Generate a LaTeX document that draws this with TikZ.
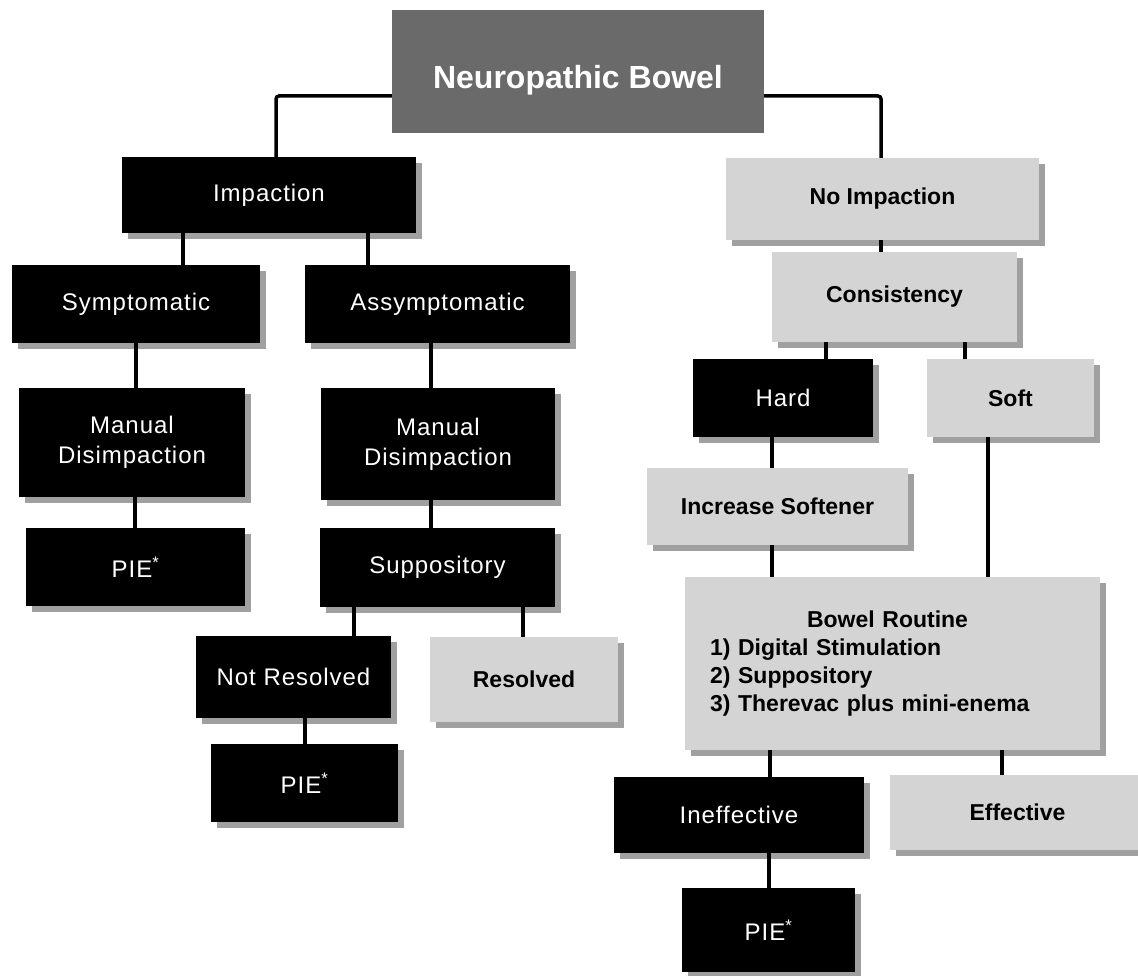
\documentclass[tikz,border=0pt]{standalone}
\usepackage{fontspec}
\setmainfont{Liberation Sans}
\newfontfamily\darkfont[LetterSpace=4]{Liberation Sans}
\usetikzlibrary{shadows}
\definecolor{boxlight}{HTML}{D4D4D4}
\definecolor{shadegray}{HTML}{A0A0A0}
\definecolor{titlegray}{HTML}{6A6A6A}
\begin{document}
\begin{tikzpicture}[x=1pt,y=-1pt,
  box/.style={rectangle, inner sep=0pt, align=center,
    drop shadow={shadow xshift=6pt, shadow yshift=-6pt, fill=shadegray, opacity=1}},
  darkbox/.style={box, fill=black, text=white, font=\darkfont\fontsize{24}{30}\selectfont},
  lightbox/.style={box, fill=boxlight, text=black, font=\bfseries\fontsize{23}{28}\selectfont},
  titlebox/.style={rectangle, inner sep=0pt, fill=titlegray, text=white, font=\bfseries\fontsize{32}{38}\selectfont},
  link/.style={line width=3.5pt, black},
  sz/.style n args={2}{minimum width=#1pt, minimum height=#2pt}]
\useasboundingbox (0,0) rectangle (1138,976);

% title
\node[titlebox, sz={372}{123}] (title) at (578,71.5) {\raisebox{-17pt}[0pt][0pt]{Neuropathic Bowel}};

% left branch
\node[darkbox, sz={294}{76}] (imp) at (269,195) {Impaction};
\node[darkbox, sz={248}{78}] (sym) at (136,304) {Symptomatic};
\node[darkbox, sz={265}{78}] (asym) at (437.5,304) {Assymptomatic};
\node[darkbox, sz={226}{109}] (md1) at (132,442.5) {Manual\\Disimpaction};
\node[darkbox, sz={234}{112}] (md2) at (438,444) {Manual\\Disimpaction};
\node[darkbox, sz={219}{78}] (pie1) at (135.5,567) {PIE\textsuperscript{*}};
\node[darkbox, sz={235}{79}] (sup) at (437.5,567.5) {Suppository};
\node[darkbox, sz={195}{82}] (notres) at (293.5,677) {Not Resolved};
\node[lightbox, sz={188}{85}] (res) at (524,679.5) {Resolved};
\node[darkbox, sz={187}{78}] (pie2) at (304.5,783) {PIE\textsuperscript{*}};

% right branch
\node[lightbox, sz={313}{82}] (noimp) at (882.5,199) {No Impaction};
\node[lightbox, sz={245}{90}] (cons) at (894.5,297) {Consistency};
\node[darkbox, sz={180}{78}] (hard) at (783,398) {Hard};
\node[lightbox, sz={167}{78}] (soft) at (1010.5,398) {Soft};
\node[lightbox, sz={261}{77}] (incr) at (777.5,506.5) {Increase Softener};
\node[lightbox, sz={415}{173}, text width=365pt, inner xsep=25pt, align=left] (bowel) at (892.5,663.5)
  {\hspace*{97pt}Bowel Routine\\1) Digital Stimulation\\2) Suppository\\3) Therevac plus mini-enema};
\node[darkbox, sz={250}{76}] (ineff) at (739,815) {Ineffective};
\node[lightbox, sz={255}{75}] (eff) at (1017.5,812.5) {Effective};
\node[darkbox, sz={173}{84}] (pie3) at (768.5,930) {PIE\textsuperscript{*}};

% connectors
\draw[link, rounded corners=3pt] (title.west |- 0,96) -| (imp.north -| 276,0);
\draw[link, rounded corners=3pt] (title.east |- 0,96) -| (noimp.north -| 881,0);
\draw[link] (imp.south -| 183,0) -- (sym.north -| 183,0);
\draw[link] (imp.south -| 368,0) -- (asym.north -| 368,0);
\draw[link] (sym.south -| 136,0) -- (md1.north -| 136,0);
\draw[link] (asym.south -| 431,0) -- (md2.north -| 431,0);
\draw[link] (md1.south -| 135,0) -- (pie1.north -| 135,0);
\draw[link] (md2.south -| 431,0) -- (sup.north -| 431,0);
\draw[link] (sup.south -| 354,0) -- (notres.north -| 354,0);
\draw[link] (sup.south -| 523,0) -- (res.north -| 523,0);
\draw[link] (notres.south -| 305,0) -- (pie2.north -| 305,0);
\draw[link] (noimp.south -| 881,0) -- (cons.north -| 881,0);
\draw[link] (cons.south -| 826,0) -- (hard.north -| 826,0);
\draw[link] (cons.south -| 965,0) -- (soft.north -| 965,0);
\draw[link] (hard.south -| 772,0) -- (incr.north -| 772,0);
\draw[link] (incr.south -| 772,0) -- (bowel.north -| 772,0);
\draw[link] (soft.south -| 988,0) -- (bowel.north -| 988,0);
\draw[link] (bowel.south -| 770,0) -- (ineff.north -| 770,0);
\draw[link] (bowel.south -| 1002,0) -- (eff.north -| 1002,0);
\draw[link] (ineff.south -| 769,0) -- (pie3.north -| 769,0);
\end{tikzpicture}
\end{document}
